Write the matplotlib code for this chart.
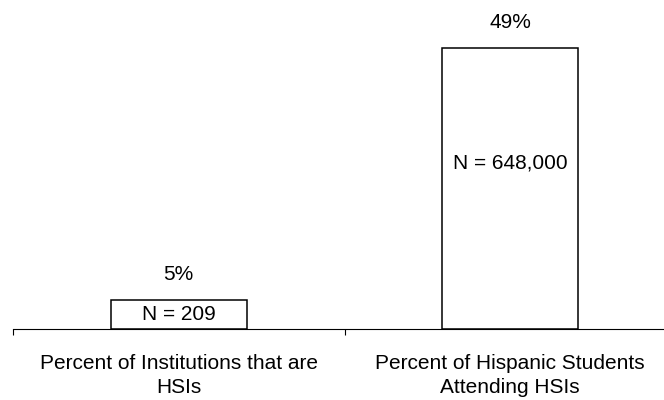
import matplotlib
matplotlib.use("Agg")
import matplotlib.pyplot as plt

plt.rcParams['font.family'] = ['Liberation Sans', 'DejaVu Sans']

categories = ["Percent of Institutions that are\nHSIs",
              "Percent of Hispanic Students\nAttending HSIs"]
percents = [5, 49]
counts = ["N = 209", "N = 648,000"]
count_y = [2.5, 29]

fig = plt.figure(figsize=(6.64, 4.0), dpi=100)
ax = fig.add_axes([13 / 664, 71 / 400, 663 / 664, 329 / 400])

x = range(len(categories))
bars = ax.bar(x, percents, width=0.41, color="white", edgecolor="black",
              linewidth=1.1, zorder=2)

for xi, p, n, ny in zip(x, percents, counts, count_y):
    ax.annotate(f"{p}%", (xi, p), xytext=(0, 18.7), textcoords="offset points",
                ha="center", va="center", fontsize=15)
    ax.text(xi, ny, n, ha="center", va="center", fontsize=15, zorder=3)

ax.set_xlim(-0.5, 1.5)
ax.set_ylim(0, 57.4)

for side in ("top", "right", "left"):
    ax.spines[side].set_visible(False)
ax.spines["bottom"].set_linewidth(0.8)
ax.set_yticks([])

ax.set_xticks(list(x))
ax.set_xticklabels(categories, fontsize=15, linespacing=1.35)
ax.tick_params(axis="x", which="major", length=0, pad=18)
ax.set_xticks([-0.5, 0.5, 1.5], minor=True)
ax.tick_params(axis="x", which="minor", length=4, width=0.8, direction="out")

fig.savefig("out.png", dpi=100)
